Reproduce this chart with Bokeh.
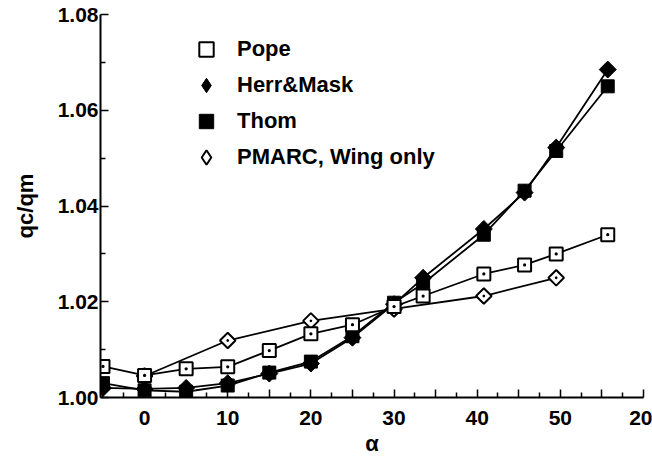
import math
from bokeh.plotting import figure
from bokeh.models import Range1d, FixedTicker, Legend, LegendItem
from bokeh.embed import file_html
from bokeh.resources import INLINE

# ---- data ----
alpha = [-5, 0, 5, 10, 15, 20, 25, 30, 33.5, 40.8, 45.7, 49.5, 55.7]
pope = [1.0065, 1.0046, 1.0060, 1.0064, 1.0098, 1.0133, 1.0152, 1.0190, 1.0212, 1.0258, 1.0277, 1.0300, 1.0340]
herr_mask = [1.0020, 1.0018, 1.0020, 1.0030, 1.0050, 1.0071, 1.0125, 1.0195, 1.0250, 1.0352, 1.0428, 1.0522, 1.0685]
thom = [1.0030, 1.0015, 1.0012, 1.0025, 1.0052, 1.0075, 1.0128, 1.0198, 1.0238, 1.0340, 1.0432, 1.0515, 1.0650]
alpha_pmarc = [0, 10, 20, 30, 40.8, 49.5]
pmarc = [1.0045, 1.0119, 1.0160, 1.0185, 1.0212, 1.0250]

series_names = ["Pope", "Herr&Mask", "Thom", "PMARC, Wing only"]

x_major_ticks = [-5, 0, 5, 10, 15, 20, 25, 30, 35, 40, 45, 50, 55, 60]
x_minor_ticks = [-2.5, 2.5, 7.5, 12.5, 17.5, 22.5, 27.5, 32.5, 37.5, 42.5, 47.5, 52.5, 57.5]
x_tick_labels = {-5: "", 0: "0", 5: "", 10: "10", 15: "", 20: "20", 25: "", 30: "30",
                 35: "", 40: "40", 45: "", 50: "50", 55: "", 60: "20"}
y_major_ticks = [1.00, 1.02, 1.04, 1.06, 1.08]
y_minor_ticks = [1.01, 1.03, 1.05, 1.07]
y_tick_labels = {1.00: "1.00", 1.02: "1.02", 1.04: "1.04", 1.06: "1.06", 1.08: "1.08"}

FONT = "Liberation Sans"
NAN = float("nan")

p = figure(width=652, height=463, output_backend="svg", toolbar_location=None,
           x_range=Range1d(-5.3, 60), y_range=Range1d(1.0, 1.08),
           min_border_left=100, min_border_right=9, min_border_top=14, min_border_bottom=66)
p.outline_line_color = None
p.grid.visible = False
p.background_fill_color = "white"
p.border_fill_color = "white"

for ax in (p.xaxis[0], p.yaxis[0]):
    ax.axis_line_width = 2
    ax.axis_line_color = "black"
    ax.major_tick_in = 8
    ax.major_tick_out = 0
    ax.minor_tick_in = 5
    ax.minor_tick_out = 0
    ax.major_tick_line_width = 1.5
    ax.minor_tick_line_width = 1.5
    ax.major_label_text_font = FONT
    ax.major_label_text_font_style = "bold"
    ax.major_label_text_font_size = "21px"
    ax.major_label_text_color = "black"
    ax.axis_label_text_font = FONT
    ax.axis_label_text_font_style = "bold"
    ax.axis_label_text_font_size = "22px"
    ax.axis_label_text_color = "black"

p.xaxis.ticker = FixedTicker(ticks=x_major_ticks, minor_ticks=x_minor_ticks)
p.xaxis.major_label_overrides = x_tick_labels
p.xaxis.axis_label = "α"
p.xaxis.major_label_standoff = 13
p.xaxis.axis_label_standoff = 3

p.yaxis.ticker = FixedTicker(ticks=y_major_ticks, minor_ticks=y_minor_ticks)
p.yaxis.major_label_overrides = y_tick_labels
p.yaxis.axis_label = "qc/qm"
p.yaxis.major_label_standoff = 2
p.yaxis.axis_label_standoff = 17

LW = 1.8
# filled series first
p.line(alpha, herr_mask, line_color="black", line_width=LW)
p.line(alpha, thom, line_color="black", line_width=LW)
p.scatter(alpha, thom, marker="square", size=13, fill_color="black", line_color="black")
p.scatter(alpha, herr_mask, marker="square", angle=math.pi / 4, size=12,
          fill_color="black", line_color="black")
# open series
p.line(alpha_pmarc, pmarc, line_color="black", line_width=LW)
p.line(alpha, pope, line_color="black", line_width=LW)
p.scatter(alpha_pmarc, pmarc, marker="square_dot", angle=math.pi / 4, size=11,
          fill_color="white", line_color="black", line_width=2)
p.scatter(alpha, pope, marker="square_dot", size=13,
          fill_color="white", line_color="black", line_width=2)

# legend keys (not data marks)
k_pope = p.scatter([NAN], [NAN], marker="square", fill_color="white", line_color="black", line_width=2)
k_herr = p.scatter([NAN], [NAN], marker="diamond", fill_color="black", line_color="black")
k_thom = p.scatter([NAN], [NAN], marker="square", fill_color="black", line_color="black")
k_pmarc = p.scatter([NAN], [NAN], marker="diamond", fill_color="white", line_color="black", line_width=2)

legend = Legend(items=[LegendItem(label=n, renderers=[r])
                       for n, r in zip(series_names, [k_pope, k_herr, k_thom, k_pmarc])],
                location=(88, 222))
legend.glyph_width = 36
legend.glyph_height = 36
legend.label_height = 36
legend.spacing = 0
legend.padding = 0
legend.margin = 0
legend.label_standoff = 13
legend.border_line_color = None
legend.background_fill_alpha = 0
legend.label_text_font = FONT
legend.label_text_font_style = "bold"
legend.label_text_font_size = "22px"
legend.label_text_color = "black"
p.add_layout(legend, "center")

open("out.html", "w").write(file_html(p, INLINE))
